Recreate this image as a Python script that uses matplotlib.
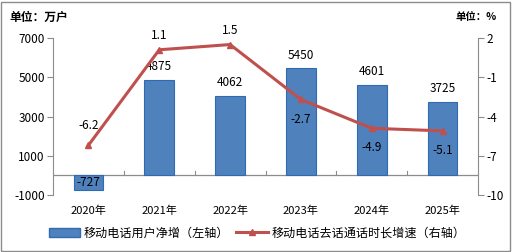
import matplotlib
matplotlib.use("Agg")
import matplotlib.pyplot as plt
from matplotlib.patches import Rectangle, Patch
from matplotlib.lines import Line2D
import numpy as np

plt.rcParams['font.family'] = ['Noto Sans CJK SC', 'DejaVu Sans']

years = ['2020年', '2021年', '2022年', '2023年', '2024年', '2025年']
net_users = [-727, 4875, 4062, 5450, 4601, 3725]
call_growth = [-6.2, 1.1, 1.5, -2.7, -4.9, -5.1]
left_ticks = [-1000, 1000, 3000, 5000, 7000]
right_ticks = [-10, -7, -4, -1, 2]

bar_color = '#4F81BD'
bar_edge = '#2E6BB0'
line_color = '#C0504D'

fig = plt.figure(figsize=(5.12, 2.52), dpi=100)
fig.patches.append(Rectangle((0.002, 0.004), 0.994, 0.99, transform=fig.transFigure,
                             fill=False, edgecolor='#8c8c8c', linewidth=1.0))

ax = fig.add_axes([53/512, 1-195/252, (478-53)/512, (195-38)/252])
x = np.arange(len(years))
ax.bar(x, net_users, width=0.42, color=bar_color, edgecolor=bar_edge, linewidth=0.8, zorder=2)
ax.set_ylim(-1000, 7000)
ax.set_xlim(-0.5, len(years)-0.5)
ax.set_yticks(left_ticks)
ax.set_yticklabels([str(v) for v in left_ticks], fontsize=8.5)
for s in ['top', 'right', 'bottom']:
    ax.spines[s].set_visible(False)
ax.spines['left'].set_color('#8c8c8c')
ax.tick_params(axis='y', length=4, color='#8c8c8c', pad=2)
ax.tick_params(axis='x', length=0, pad=8)
ax.set_xticks(x)
ax.set_xticklabels(years, fontsize=8)
ax.axhline(0, color='#8c8c8c', linewidth=0.9, zorder=1)
for b in np.arange(0.5, len(years)-0.5, 1.0):
    ax.plot([b, b], [0, 200], color='#8c8c8c', linewidth=0.8, zorder=1)

for xi, v in zip(x, net_users):
    if v >= 0:
        ax.text(xi, v + 350, str(v), ha='center', va='bottom', fontsize=8.5)
    else:
        ax.text(xi, v + 50, str(v), ha='center', va='bottom', fontsize=8.5)

ax2 = ax.twinx()
ax2.set_ylim(-10, 2)
ax2.set_yticks(right_ticks)
ax2.set_yticklabels([str(v) for v in right_ticks], fontsize=8.5)
for s in ['top', 'left', 'bottom']:
    ax2.spines[s].set_visible(False)
ax2.spines['right'].set_color('#8c8c8c')
ax2.tick_params(axis='y', length=4, color='#8c8c8c', pad=2)
ax2.plot(x, call_growth, color=line_color, linewidth=2.2, marker='^', markersize=5, zorder=3)

offsets = [1.0, 0.6, 0.6, -1.0, -1.0, -1.0]
for xi, v, dy in zip(x, call_growth, offsets):
    ax2.text(xi, v + dy, f'{v:.1f}', ha='center', va='bottom' if dy > 0 else 'top', fontsize=8.5)

fig.text(9/512, 1-17/252, '单位：万户', fontsize=8.5, fontweight='bold', ha='left', va='center')
fig.text(497/512, 1-17/252, '单位：%', fontsize=7.5, fontweight='bold', ha='right', va='center')

handles = [Patch(facecolor=bar_color, edgecolor=bar_edge),
           Line2D([0], [0], color=line_color, linewidth=2.2, marker='^', markersize=5)]
fig.legend(handles, ['移动电话用户净增（左轴）', '移动电话去话通话时长增速（右轴）'],
           loc='center', bbox_to_anchor=(257/512, 1-233/252), ncol=2, frameon=False,
           fontsize=8.7, handlelength=2.6, columnspacing=0.6, handletextpad=0.3)

fig.savefig('out.png', dpi=100)
